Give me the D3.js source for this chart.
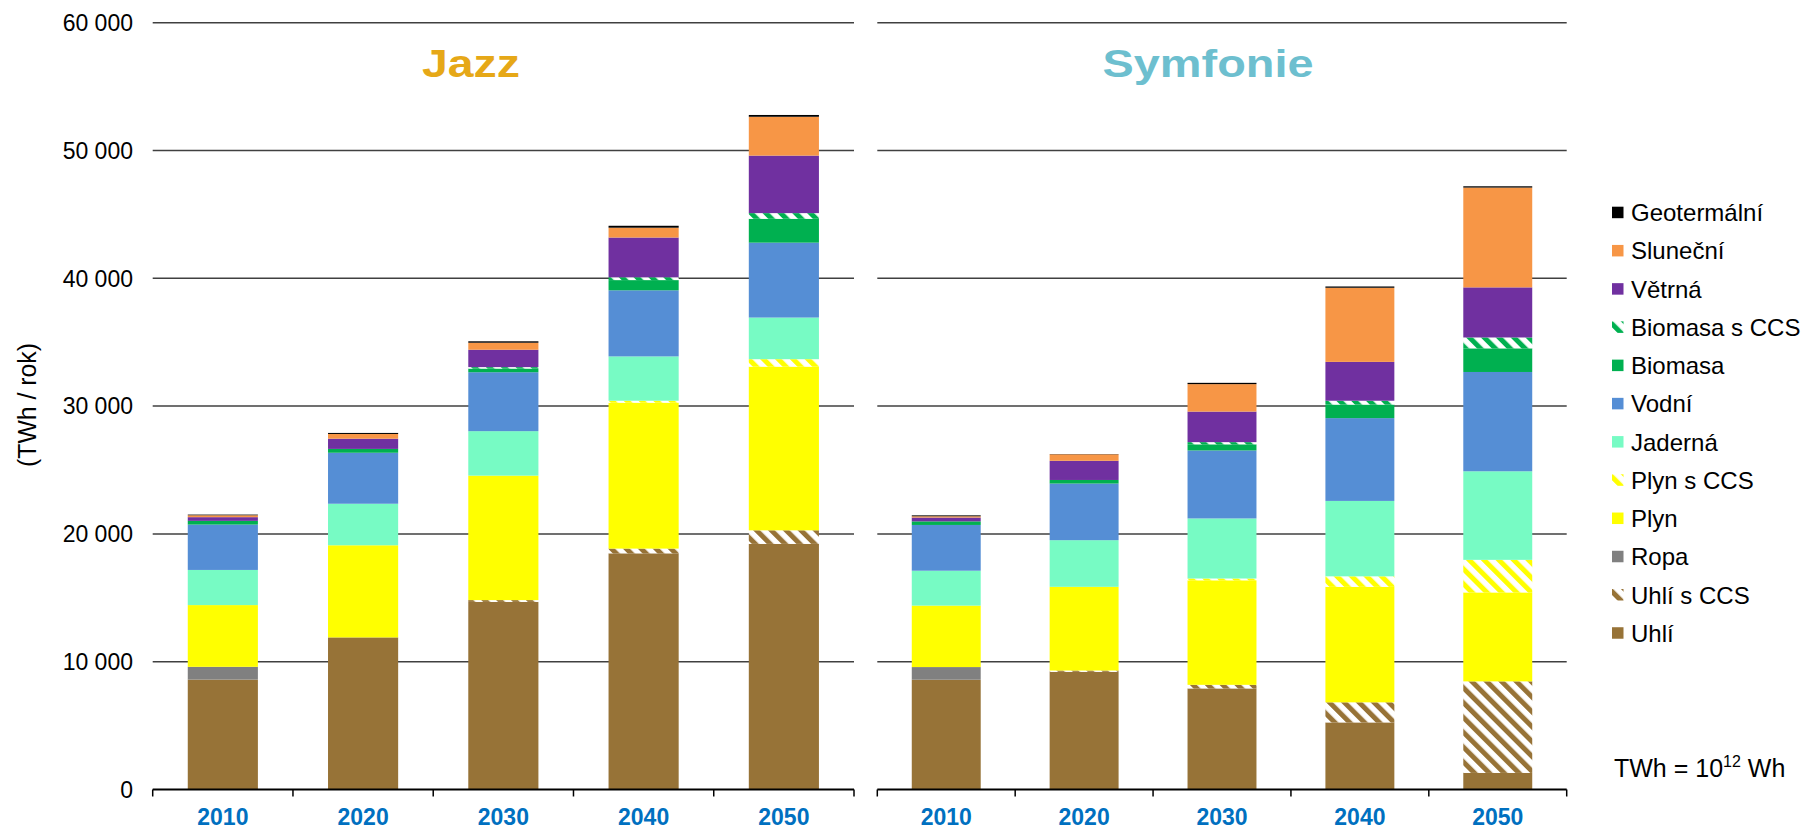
<!DOCTYPE html>
<html>
<head>
<meta charset="utf-8">
<script src="https://cdn.jsdelivr.net/npm/d3@7"></script>
<style>
  body { margin: 0; background: #fff; }
  svg { display: block; font-family: "Liberation Sans", Arial, sans-serif; }
</style>
</head>
<body>
<svg id="chart" width="1807" height="831"></svg>
<script>
const years = ["2010", "2020", "2030", "2040", "2050"];
const series = ["Uhlí", "Uhlí s CCS", "Ropa", "Plyn", "Plyn s CCS", "Jaderná", "Vodní",
                "Biomasa", "Biomasa s CCS", "Větrná", "Sluneční", "Geotermální"];
const colors = ["#977337", "#977337", "#808080", "#ffff00", "#ffff00", "#77fbc4", "#558ed5",
                "#00b050", "#00b050", "#7030a0", "#f79646", "#000000"];
const hatched = [false, true, false, false, true, false, false, false, true, false, false, false];
const yTicks = [0, 10000, 20000, 30000, 40000, 50000, 60000];

// TWh / rok, one row per series (same order as `series`)
const jazzValues = [
  [8600, 11900, 14680, 18480, 19220],
  [0, 0, 140, 370, 1060],
  [1000, 0, 0, 0, 0],
  [4830, 7210, 9740, 11420, 12810],
  [0, 0, 0, 150, 580],
  [2750, 3250, 3480, 3470, 3260],
  [3550, 3990, 4610, 5170, 5860],
  [290, 300, 290, 800, 1870],
  [0, 0, 110, 220, 440],
  [290, 800, 1360, 3110, 4500],
  [150, 370, 550, 770, 3040],
  [50, 80, 110, 150, 140]
];
const symfonieValues = [
  [8590, 9210, 7910, 5250, 1300],
  [0, 100, 280, 1570, 7160],
  [990, 0, 0, 0, 0],
  [4810, 6550, 8180, 9040, 6960],
  [0, 0, 140, 820, 2550],
  [2730, 3650, 4700, 5900, 6930],
  [3580, 4430, 5320, 6480, 7770],
  [280, 280, 480, 1060, 1850],
  [0, 0, 170, 300, 850],
  [300, 1500, 2390, 3040, 3920],
  [100, 510, 2150, 5800, 7810],
  [70, 20, 100, 100, 100]
];

const svg = d3.select("#chart");
const defs = svg.append("defs");

// diagonal hatch for the CCS series
series.forEach((s, i) => {
  if (!hatched[i]) return;
  const p = defs.append("pattern")
      .attr("id", "hatch" + i)
      .attr("patternUnits", "userSpaceOnUse")
      .attr("width", 10.5).attr("height", 10.5)
      .attr("patternTransform", "rotate(-45)");
  p.append("rect").attr("width", 10.5).attr("height", 10.5).attr("fill", "#fff");
  p.append("rect").attr("width", 5).attr("height", 10.5).attr("fill", colors[i]);
});
const fillOf = i => hatched[i] ? `url(#hatch${i})` : colors[i];

const y = d3.scaleLinear().domain([0, 60000]).range([789.5, 22.7]);

const panels = [
  { name: "Jazz", color: "#e6a817", values: jazzValues, x0: 152.7, x1: 854, titleX: 471, titleW: 98 },
  { name: "Symfonie", color: "#6dbfcf", values: symfonieValues, x0: 877.3, x1: 1566.7, titleX: 1208, titleW: 211 }
];

panels.forEach(panel => {
  const x = d3.scaleBand().domain(years).range([panel.x0, panel.x1])
      .paddingInner(0.5).paddingOuter(0.25);
  const g = svg.append("g");

  // gridlines
  g.append("g").selectAll("line")
    .data(yTicks.slice(1))
    .join("line")
      .attr("x1", panel.x0).attr("x2", panel.x1)
      .attr("y1", d => y(d)).attr("y2", d => y(d))
      .attr("stroke", "#404040").attr("stroke-width", 1.5);

  // stacked bars
  const rows = years.map((yr, j) => {
    const r = { year: yr };
    series.forEach((s, i) => { r[s] = panel.values[i][j]; });
    return r;
  });
  const stack = d3.stack().keys(series)(rows);
  g.append("g").selectAll("g")
    .data(stack)
    .join("g")
      .attr("fill", (d, i) => fillOf(i))
    .selectAll("rect")
    .data(d => d.filter(v => v[1] - v[0] > 0))
    .join("rect")
      .attr("x", d => x(d.data.year))
      .attr("width", x.bandwidth())
      .attr("y", d => y(d[1]))
      .attr("height", d => y(d[0]) - y(d[1]));

  // x axis
  const axis = d3.axisBottom(x).tickSize(0).tickPadding(19);
  const ax = g.append("g").attr("transform", `translate(0,${y(0)})`).call(axis);
  ax.select(".domain").remove();
  ax.selectAll("text")
      .attr("font-size", 23).attr("font-weight", "bold").attr("fill", "#0070c0")
      .attr("font-family", "'Liberation Sans', Arial, sans-serif");
  ax.append("line").attr("x1", panel.x0).attr("x2", panel.x1)
      .attr("stroke", "#000").attr("stroke-width", 2);
  ax.selectAll(".sep")
    .data(d3.range(years.length + 1))
    .join("line").attr("class", "sep")
      .attr("x1", i => panel.x0 + i * x.step()).attr("x2", i => panel.x0 + i * x.step())
      .attr("y1", 0).attr("y2", 7)
      .attr("stroke", "#000").attr("stroke-width", 1.5);

  // title
  svg.append("text")
      .attr("x", panel.titleX).attr("y", 77)
      .attr("text-anchor", "middle")
      .attr("font-size", 38).attr("font-weight", "bold")
      .attr("fill", panel.color)
      .attr("textLength", panel.titleW).attr("lengthAdjust", "spacingAndGlyphs")
      .text(panel.name);
});

// y axis labels
svg.append("g").selectAll("text")
  .data(yTicks)
  .join("text")
    .attr("x", 133).attr("y", d => y(d))
    .attr("dy", "0.36em")
    .attr("text-anchor", "end")
    .attr("font-size", 23)
    .attr("fill", "#000")
    .text(d => d3.format(",")(d).replace(/,/g, " "));

svg.append("text")
    .attr("transform", "translate(36,405) rotate(-90)")
    .attr("text-anchor", "middle")
    .attr("font-size", 25)
    .attr("textLength", 124).attr("lengthAdjust", "spacingAndGlyphs")
    .text("(TWh / rok)");

// legend
const legend = svg.append("g").selectAll("g")
  .data(series.map((s, i) => i).reverse())
  .join("g")
    .attr("transform", (d, k) => `translate(1612, ${212.7 + k * 38.23})`);
legend.append("rect")
    .attr("x", 0).attr("y", -6).attr("width", 11.5).attr("height", 11.5)
    .attr("fill", d => fillOf(d));
legend.append("text")
    .attr("x", 19).attr("y", 8.5)
    .attr("font-size", 24)
    .text(d => series[d]);

// unit note
const note = svg.append("text").attr("x", 1614).attr("y", 777).attr("font-size", 25);
note.append("tspan").text("TWh = 10");
note.append("tspan").attr("font-size", 16).attr("dy", -10).text("12");
note.append("tspan").attr("dy", 10).text(" Wh");
</script>
</body>
</html>
